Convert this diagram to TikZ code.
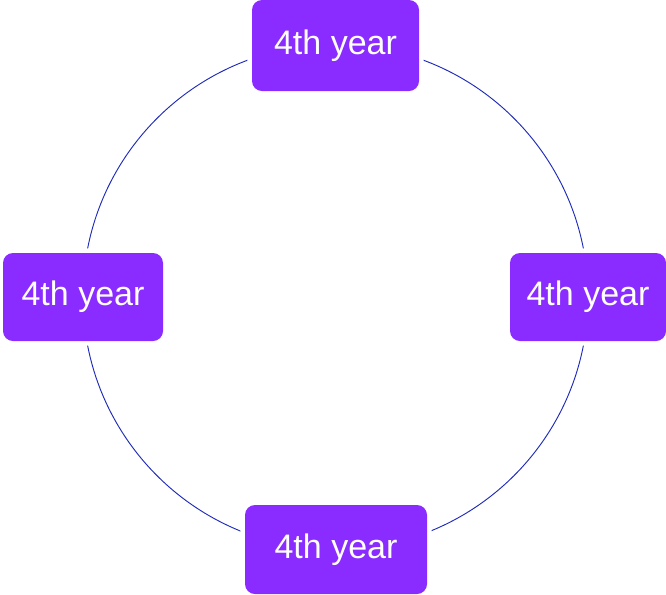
\documentclass[tikz,border=0pt]{standalone}
\usepackage{fontspec}
\setmainfont{Liberation Sans}
\usepackage{tikz}
\usetikzlibrary{positioning}

\definecolor{yearpurple}{HTML}{8A2BFF}
\definecolor{ringblue}{HTML}{1F2BB8}

\begin{document}
\begin{tikzpicture}[
    x=0.75pt, y=-0.75pt,
    font=\fontsize{25.5}{30}\selectfont,
    box/.style={
        fill=yearpurple,
        text=white,
        rounded corners=7.5pt,
        inner sep=0pt,
        align=center,
        preaction={draw=white, line width=7pt}
    },
    ring/.style={draw=ringblue, line width=0.7pt}
]
\useasboundingbox (0,0) rectangle (666,594);

% ring behind the boxes
\coordinate (ctr) at (335.5,297);
\draw[ring] (ctr) circle[radius=189.4pt];

% boxes on the ring
\node[box, minimum width=125.25pt, minimum height=68.25pt] (top) at (335.5,45.5) {4th year};
\node[box, minimum width=120pt, minimum height=66pt] (left) at (83,297) {4th year};
\node[box, minimum width=117pt, minimum height=66pt] (right) at (588,297) {4th year};
\node[box, minimum width=136.5pt, minimum height=66.75pt] (bottom) at (336,549.5) {4th year};

\end{tikzpicture}
\end{document}
